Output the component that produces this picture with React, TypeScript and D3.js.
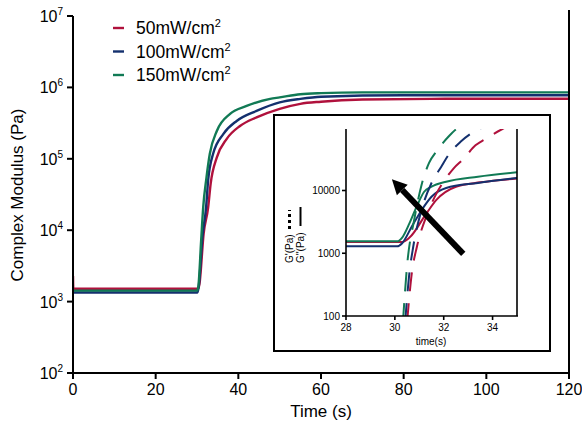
import React from "react";
import * as d3 from "d3";

// ---------- data ----------
const seriesNames = ["50mW/cm", "100mW/cm", "150mW/cm"];
const seriesColors = ["#B0113C", "#14306E", "#117A55"];

// main chart: [time s, log10 modulus]
const mainRed: [number, number][] = [
  [0, 3.36], [0.08, 3.18], [30.3, 3.18], [30.6, 3.25], [31.6, 3.95], [32.7, 4.32],
  [33.3, 4.65], [34.8, 5.02], [37.2, 5.28], [40.4, 5.46], [44.4, 5.58], [50, 5.7],
  [55, 5.77], [60, 5.8], [70, 5.83], [90, 5.84], [120, 5.84],
];
const mainBlue: [number, number][] = [
  [0, 3.127], [30.1, 3.127], [30.4, 3.2], [31.3, 3.9], [32.2, 4.32], [32.7, 4.7],
  [33.9, 5.07], [36.4, 5.35], [39.6, 5.53], [44.4, 5.67], [50, 5.79], [55, 5.84],
  [60, 5.87], [80, 5.89], [120, 5.89],
];
const mainGreen: [number, number][] = [
  [0, 3.154], [30.0, 3.154], [30.3, 3.2], [31.0, 3.85], [31.5, 4.32], [32.3, 4.74],
  [33.1, 5.07], [34.8, 5.39], [38, 5.63], [42, 5.74], [47.7, 5.84], [50, 5.86],
  [55, 5.905], [60, 5.92], [70, 5.93], [120, 5.93],
];

// inset: G'' (solid) [time, log10]
const insetSolidRed: [number, number][] = [
  [28, 3.18], [30.3, 3.18], [30.6, 3.25], [31.3, 3.64], [31.7, 3.85], [32.5, 4.06],
  [33.5, 4.13], [35, 4.19],
];
const insetSolidBlue: [number, number][] = [
  [28, 3.11], [30.1, 3.11], [30.3, 3.16], [30.7, 3.43], [31.1, 3.69], [31.5, 3.9],
  [32.1, 4.04], [33.4, 4.12], [35, 4.2],
];
const insetSolidGreen: [number, number][] = [
  [28, 3.19], [30.1, 3.19], [30.3, 3.25], [30.6, 3.48], [30.9, 3.75], [31.2, 3.98],
  [31.5, 4.06], [32.1, 4.14], [33.4, 4.22], [35, 4.29],
];
// inset: G' (dashed)
const insetDashRed: [number, number][] = [
  [30.5, 1.9], [30.7, 2.7], [30.9, 3.1], [31.3, 3.6], [31.7, 3.95], [32.1, 4.2],
  [32.4, 4.35], [32.8, 4.5], [33.3, 4.72], [33.7, 4.82], [34.4, 4.98], [34.6, 5.02],
];
const insetDashBlue: [number, number][] = [
  [30.42, 1.9], [30.6, 2.7], [30.75, 3.1], [31.1, 3.7], [31.5, 4.12], [31.9, 4.38],
  [32.2, 4.57], [32.7, 4.78], [33.5, 4.99], [33.7, 5.02],
];
const insetDashGreen: [number, number][] = [
  [30.33, 1.9], [30.5, 2.8], [30.8, 3.55], [31.1, 4.1], [31.4, 4.44], [31.7, 4.62],
  [32.2, 4.86], [32.6, 5.0], [32.7, 5.02],
];

const mainXTicks = [0, 20, 40, 60, 80, 100, 120];
const mainYExps = [2, 3, 4, 5, 6, 7];
const insetXTicks = [28, 30, 32, 34];
const insetYTicks = [100, 1000, 10000];
// arrow annotation in inset data coords [time, log10]
const arrowTail: [number, number] = [32.8, 2.99];
const arrowTip: [number, number] = [29.88, 4.18];

const FONT = "Liberation Sans, Arial, sans-serif";

export default function App() {
  // main scales
  const x = d3.scaleLinear().domain([0, 120]).range([73, 569]);
  const y = d3.scaleLog().domain([100, 1e7]).range([373, 16]);
  const mainLine = d3
    .line<[number, number]>()
    .x((d) => x(d[0]))
    .y((d) => y(Math.pow(10, d[1])))
    .curve(d3.curveMonotoneX);

  // inset scales
  const ix = d3.scaleLinear().domain([28, 35]).range([346, 517]);
  const iy = d3.scaleLog().domain([100, Math.pow(10, 4.98)]).range([316, 129]);
  const insetLine = d3
    .line<[number, number]>()
    .x((d) => ix(d[0]))
    .y((d) => iy(Math.pow(10, d[1])))
    .curve(d3.curveMonotoneX);

  const mainSeries = [mainRed, mainBlue, mainGreen];
  const solidSeries = [insetSolidRed, insetSolidBlue, insetSolidGreen];
  const dashSeries = [insetDashRed, insetDashBlue, insetDashGreen];

  const tx = ix(arrowTail[0]);
  const ty = iy(Math.pow(10, arrowTail[1]));
  const hx = ix(arrowTip[0]);
  const hy = iy(Math.pow(10, arrowTip[1]));
  const ang = Math.atan2(hy - ty, hx - tx);
  const headLen = 15;
  const headHalf = 7.5;
  const bx = hx - headLen * Math.cos(ang);
  const by = hy - headLen * Math.sin(ang);
  const px = -Math.sin(ang);
  const py = Math.cos(ang);
  const head = `M${hx},${hy}L${bx + px * headHalf},${by + py * headHalf}L${bx - px * headHalf},${by - py * headHalf}Z`;

  return (
    <svg width={582} height={421} style={{ position: "absolute", left: 0, top: 0 }} fontFamily={FONT}>
      <rect width={582} height={421} fill="#fff" />
      <defs>
        <clipPath id="insetClip">
          <rect x={346} y={129} width={171} height={187} />
        </clipPath>
        <clipPath id="mainClip">
          <rect x={72} y={16} width={498} height={358} />
        </clipPath>
      </defs>

      {/* main curves */}
      <g clipPath="url(#mainClip)">
        {mainSeries.map((s, i) => (
          <path key={i} d={mainLine(s) || ""} fill="none" stroke={seriesColors[i]} strokeWidth={2.4} />
        ))}
      </g>

      {/* main axes */}
      <line x1={73} x2={73} y1={y(1e7)} y2={y(100)} stroke="#000" strokeWidth={2} />
      <line x1={569} x2={569} y1={y(1e7) - 6} y2={y(100)} stroke="#000" strokeWidth={2} />
      <line x1={72} x2={570} y1={y(100)} y2={y(100)} stroke="#000" strokeWidth={2} />
      {mainYExps.map((e) => (
        <g key={e}>
          <line x1={67} x2={73} y1={y(Math.pow(10, e))} y2={y(Math.pow(10, e))} stroke="#000" strokeWidth={2} />
          <text x={63} y={y(Math.pow(10, e)) + 6} textAnchor="end" fontSize={16}>
            10
            <tspan fontSize={10} dy={-7}>{e}</tspan>
          </text>
        </g>
      ))}
      {mainXTicks.map((t) => (
        <g key={t}>
          <line x1={x(t)} x2={x(t)} y1={373} y2={379} stroke="#000" strokeWidth={2} />
          <text x={x(t)} y={395} textAnchor="middle" fontSize={16}>
            {t}
          </text>
        </g>
      ))}
      <text x={321} y={417} textAnchor="middle" fontSize={17}>
        Time (s)
      </text>
      <text transform="translate(23,195) rotate(-90)" textAnchor="middle" fontSize={17}>
        Complex Modulus (Pa)
      </text>

      {/* legend */}
      {seriesNames.map((n, i) => (
        <g key={n}>
          <line x1={113} x2={124} y1={28 + i * 23.5} y2={28 + i * 23.5} stroke={seriesColors[i]} strokeWidth={2.4} />
          <text x={136} y={34 + i * 23.5} fontSize={17.5}>
            {n}
            <tspan fontSize={11} dy={-7}>2</tspan>
          </text>
        </g>
      ))}

      {/* inset box */}
      <rect x={274} y={115} width={276} height={236} fill="#fff" stroke="#000" strokeWidth={2} />

      <g clipPath="url(#insetClip)">
        {solidSeries.map((s, i) => (
          <path key={"s" + i} d={insetLine(s) || ""} fill="none" stroke={seriesColors[i]} strokeWidth={2} />
        ))}
        {dashSeries.map((s, i) => (
          <path
            key={"d" + i}
            d={insetLine(s) || ""}
            fill="none"
            stroke={seriesColors[i]}
            strokeWidth={2}
            strokeDasharray="19,12"
          />
        ))}
      </g>

      {/* arrow */}
      <line x1={tx} y1={ty} x2={bx} y2={by} stroke="#000" strokeWidth={6} />
      <path d={head} fill="#000" />

      {/* inset axes */}
      <line x1={346} x2={346} y1={129} y2={316} stroke="#000" strokeWidth={1.6} />
      <line x1={517} x2={517} y1={129} y2={316} stroke="#000" strokeWidth={1.6} />
      <line x1={345} x2={518} y1={316} y2={316} stroke="#000" strokeWidth={1.6} />
      {insetYTicks.map((v) => (
        <g key={v}>
          <line x1={342} x2={346} y1={iy(v)} y2={iy(v)} stroke="#000" strokeWidth={1.6} />
          <text x={340} y={iy(v) + 3.5} textAnchor="end" fontSize={10}>
            {v}
          </text>
        </g>
      ))}
      {insetXTicks.map((t) => (
        <g key={t}>
          <line x1={ix(t)} x2={ix(t)} y1={316} y2={320} stroke="#000" strokeWidth={1.6} />
          <text x={ix(t)} y={331} textAnchor="middle" fontSize={10}>
            {t}
          </text>
        </g>
      ))}
      <text x={431} y={345} textAnchor="middle" fontSize={10}>
        time(s)
      </text>
      <text transform="translate(293,263) rotate(-90)" fontSize={10}>
        G'(Pa)
      </text>
      <line x1={289.5} x2={289.5} y1={229} y2={210} stroke="#000" strokeWidth={3} strokeDasharray="3,3" />
      <text transform="translate(304,263) rotate(-90)" fontSize={10}>
        G''(Pa)
      </text>
      <line x1={300.5} x2={300.5} y1={226} y2={207} stroke="#000" strokeWidth={2} />
    </svg>
  );
}
